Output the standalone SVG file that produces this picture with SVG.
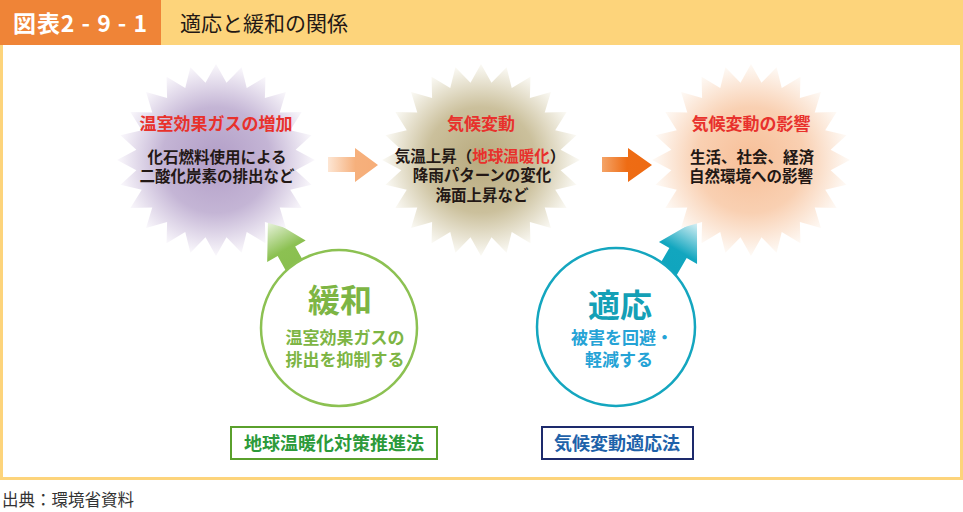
<svg xmlns="http://www.w3.org/2000/svg" width="963" height="512" viewBox="0 0 963 512">
<style>
text{font-family:"Noto Sans CJK JP","Noto Sans CJK SC",sans-serif;}
.b{font-weight:bold;}
.red{fill:#e8312c;font-size:17px;font-weight:bold;text-anchor:middle;}
.blk{fill:#231815;font-size:15.5px;font-weight:bold;text-anchor:middle;}
.g{fill:#7db544;font-weight:bold;text-anchor:middle;}
.c{fill:#25a3d6;font-weight:bold;text-anchor:middle;}
</style>
<defs>
<polygon id="burst" points="96,0 77.33,10.18 92.73,24.85 72.06,29.85 83.14,48 61.88,47.48 67.88,67.88 47.48,61.88 48,83.14 29.85,72.06 24.85,92.73 10.18,77.33 0,96 -10.18,77.33 -24.85,92.73 -29.85,72.06 -48,83.14 -47.48,61.88 -67.88,67.88 -61.88,47.48 -83.14,48 -72.06,29.85 -92.73,24.85 -77.33,10.18 -96,0 -77.33,-10.18 -92.73,-24.85 -72.06,-29.85 -83.14,-48 -61.88,-47.48 -67.88,-67.88 -47.48,-61.88 -48,-83.14 -29.85,-72.06 -24.85,-92.73 -10.18,-77.33 0,-96 10.18,-77.33 24.85,-92.73 29.85,-72.06 48,-83.14 47.48,-61.88 67.88,-67.88 61.88,-47.48 83.14,-48 72.06,-29.85 92.73,-24.85 77.33,-10.18"/>
<radialGradient id="gp" cx="0.5" cy="0.5" r="0.5">
<stop offset="0" stop-color="#b29ec7"/><stop offset="0.55" stop-color="#c4b5d5"/><stop offset="1" stop-color="#faf8fc"/>
</radialGradient>
<radialGradient id="gk" cx="0.5" cy="0.5" r="0.5">
<stop offset="0" stop-color="#b8aa7e"/><stop offset="0.55" stop-color="#cbc09c"/><stop offset="1" stop-color="#fbfaf5"/>
</radialGradient>
<radialGradient id="go" cx="0.5" cy="0.5" r="0.5">
<stop offset="0" stop-color="#f7bf98"/><stop offset="0.55" stop-color="#f9d0b2"/><stop offset="1" stop-color="#fefaf6"/>
</radialGradient>
<linearGradient id="a1" x1="0" y1="0" x2="1" y2="0">
<stop offset="0" stop-color="#fde6d4"/><stop offset="0.55" stop-color="#f6b07c"/><stop offset="1" stop-color="#f6ad78"/>
</linearGradient>
<linearGradient id="a2" x1="0" y1="0" x2="1" y2="0">
<stop offset="0" stop-color="#f4a468"/><stop offset="0.5" stop-color="#ee6c14"/><stop offset="1" stop-color="#ee6a12"/>
</linearGradient>
<linearGradient id="ag" x1="0" y1="0" x2="0" y2="1">
<stop offset="0" stop-color="#f4f9ee"/><stop offset="0.5" stop-color="#8cc152"/><stop offset="1" stop-color="#86bd4c"/>
</linearGradient>
<linearGradient id="ac" x1="0" y1="0" x2="0" y2="1">
<stop offset="0" stop-color="#e8f6f9"/><stop offset="0.5" stop-color="#12a6bf"/><stop offset="1" stop-color="#0ea4bd"/>
</linearGradient>
<path id="uparrow" d="M0,0 L22,38 L10,38 L10,72 L-10,72 L-10,38 L-22,38 Z"/>
</defs>

<g id="frame">
<rect x="1.5" y="43" width="960" height="435.5" fill="#ffffff" stroke="#fdd47b" stroke-width="3"/>
<rect x="0" y="0" width="963" height="45" fill="#fdd47b"/>
<rect x="0" y="0" width="161" height="45" fill="#ef8437"/>
<text x="13" y="32" font-size="23" fill="#ffffff" class="b" textLength="134" lengthAdjust="spacing">図表2 - 9 - 1</text>
<text x="180" y="31" font-size="21" fill="#231815">適応と緩和の関係</text>
</g>

<g id="connectors">
<path d="M328,157 L355,157 L355,148 L378,165 L355,182 L355,172 L328,172 Z" fill="url(#a1)"/>
<path d="M602,157 L628,157 L628,148 L652,165 L628,182 L628,172 L602,172 Z" fill="url(#a2)"/>
<use href="#uparrow" fill="url(#ag)" transform="translate(268,218) rotate(-29)"/>
<use href="#uparrow" fill="url(#ac)" transform="translate(697,220) rotate(30)"/>
</g>

<g id="burst-ghg">
<use href="#burst" fill="url(#gp)" transform="translate(216,160) scale(1.03,1)"/>
<text class="red" x="216" y="130">温室効果ガスの増加</text>
<text class="blk" x="217" y="163">化石燃料使用による</text>
<text class="blk" x="217" y="182">二酸化炭素の排出など</text>
</g>

<g id="burst-climate">
<use href="#burst" fill="url(#gk)" transform="translate(481,160) scale(1.03,1)"/>
<text class="red" x="481" y="130">気候変動</text>
<text class="blk" x="480" y="162">気温上昇（<tspan fill="#e8312c">地球温暖化</tspan>）</text>
<text class="blk" x="482" y="181">降雨パターンの変化</text>
<text class="blk" x="482" y="201">海面上昇など</text>
</g>

<g id="burst-impact">
<use href="#burst" fill="url(#go)" transform="translate(751,160) scale(1.03,1)"/>
<text class="red" x="751" y="130">気候変動の影響</text>
<text class="blk" x="752" y="163">生活、社会、経済</text>
<text class="blk" x="751" y="182">自然環境への影響</text>
</g>

<g id="mitigation">
<circle cx="339" cy="328" r="78" fill="#ffffff" stroke="#8cc152" stroke-width="2.5"/>
<text class="g" x="340" y="312" font-size="32">緩和</text>
<text class="g" x="345" y="344" font-size="17">温室効果ガスの</text>
<text class="g" x="345" y="366" font-size="17">排出を抑制する</text>
</g>

<g id="adaptation">
<circle cx="616" cy="327" r="79" fill="#ffffff" stroke="#14a6bf" stroke-width="2.5"/>
<text x="620" y="317" font-size="32" fill="#14a0b6" class="b" text-anchor="middle">適応</text>
<text class="c" x="622" y="344" font-size="17">被害を回避・</text>
<text class="c" x="619" y="366" font-size="17">軽減する</text>
</g>

<g id="law-mitigation">
<rect x="231" y="427" width="206" height="32" fill="#ffffff" stroke="#5aa02c" stroke-width="2"/>
<text x="334" y="450" font-size="18" fill="#2c9a3a" class="b" text-anchor="middle">地球温暖化対策推進法</text>
</g>

<g id="law-adaptation">
<rect x="542" y="427" width="151" height="32" fill="#ffffff" stroke="#1d2a6c" stroke-width="2"/>
<text x="617" y="450" font-size="18" fill="#1e62aa" class="b" text-anchor="middle">気候変動適応法</text>
</g>

<text x="2" y="506" font-size="16.5" fill="#333333">出典：環境省資料</text>
</svg>
